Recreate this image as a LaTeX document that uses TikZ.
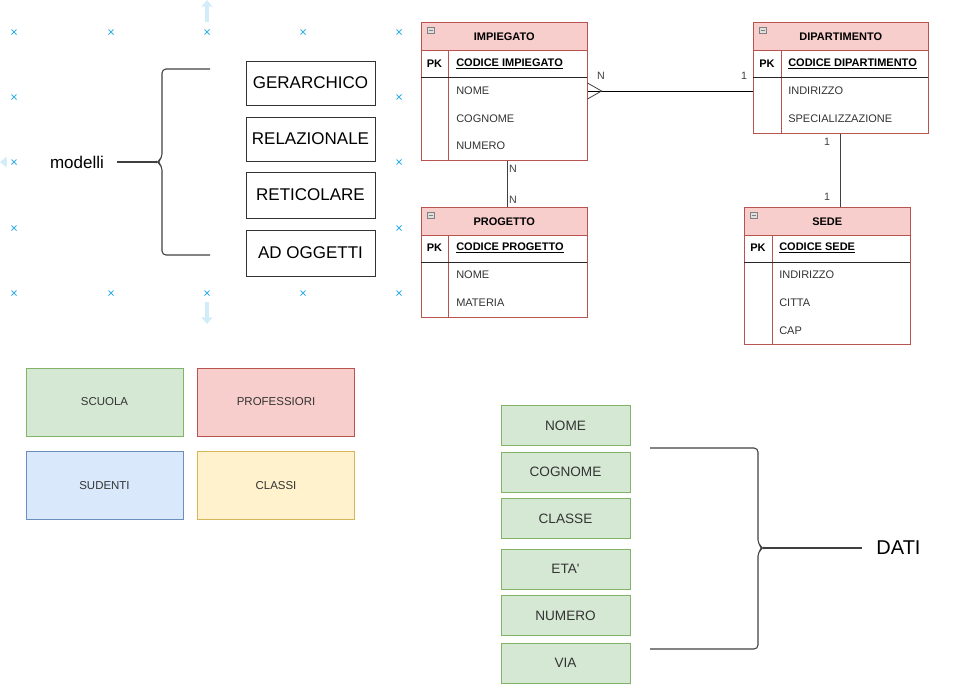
\documentclass[tikz,border=0pt]{standalone}
\usepackage{fontspec}
\setmainfont{Liberation Sans}
\usetikzlibrary{arrows.meta, positioning}
\definecolor{erfill}{HTML}{F8CECC}
\definecolor{erdraw}{HTML}{B85450}
\definecolor{gfill}{HTML}{D5E8D4}
\definecolor{gdraw}{HTML}{82B366}
\definecolor{bfill}{HTML}{DAE8FC}
\definecolor{bdraw}{HTML}{6C8EBF}
\definecolor{yfill}{HTML}{FFF2CC}
\definecolor{ydraw}{HTML}{D6B656}
\definecolor{selblue}{HTML}{3AAEE6}
\definecolor{ghost}{HTML}{D2ECF8}

\begin{document}
\begin{tikzpicture}[x=0.75pt, y=-0.75pt,
      mbox/.style={draw=black!80, minimum width=96.75pt, minimum height=33pt,
                   inner sep=0pt, font=\fontsize{12.75}{15}\selectfont},
      cbox/.style={minimum width=117.75pt, minimum height=51pt, inner sep=0pt,
                   text=black!80, font=\fontsize{8.6}{10}\selectfont},
      dbox/.style={draw=gdraw, fill=gfill, minimum width=96.75pt, minimum height=30pt,
                   inner sep=0pt, text=black!80, font=\fontsize{10.2}{12}\selectfont},
      tbl/.style={draw=erdraw, anchor=north west, inner sep=0pt},
      tblhead/.style={draw=erdraw, fill=erfill, anchor=north west, minimum height=21pt,
                      inner sep=0pt, font=\bfseries\fontsize{8.25}{10}\selectfont},
      pk/.style={inner sep=0pt, font=\bfseries\fontsize{8.25}{10}\selectfont},
      attr/.style={anchor=west, inner sep=0pt, text=black!80, font=\fontsize{8.25}{10}\selectfont},
      key/.style={attr, text=black, font=\bfseries\fontsize{8.25}{10}\selectfont},
      card/.style={inner sep=0pt, text=black!75, font=\fontsize{8}{10}\selectfont},
      conn/.style={draw=black!75, line width=0.8pt},
      brc/.style={draw=black!75, line width=0.8pt, rounded corners=3pt},
      icon/.style={draw=gray, fill=gray!25, line width=0.4pt},
      ghostarr/.style={ghost, line width=3.5pt, -{Triangle[width=8pt, length=5pt]}}]
    \useasboundingbox (0,0) rectangle (975,700);

    % selection marks
    \foreach \x in {14,111,207,303,399} {
      \draw[selblue, line width=0.6pt] (\x-2.5,29.5) -- (\x+2.5,34.5) (\x-2.5,34.5) -- (\x+2.5,29.5);
      \draw[selblue, line width=0.6pt] (\x-2.5,290.5) -- (\x+2.5,295.5) (\x-2.5,295.5) -- (\x+2.5,290.5);
    }
    \foreach \x in {14,399} \foreach \y in {97,162,228}
      \draw[selblue, line width=0.6pt] (\x-2.5,\y-2.5) -- (\x+2.5,\y+2.5) (\x-2.5,\y+2.5) -- (\x+2.5,\y-2.5);
    \draw[ghostarr] (207,22) -- (207,0);
    \draw[ghostarr] (207,302) -- (207,324);
    \draw[ghostarr] (7,162) -- (0,162);

    % modelli
    \node[inner sep=0pt, inner xsep=9.75pt, font=\fontsize{12.75}{15}\selectfont] (modelli) at (77,162) {modelli};
    \coordinate (cusp) at (157,162);
    \draw[brc] (210,69) -- (162,69) -- (162,158) -- (157,162) -- (162,166) -- (162,255) -- (210,255);
    \draw[conn] (modelli) -- (cusp);
    \node[mbox] (ger) at (310.5,83) {GERARCHICO};
    \node[mbox] (rel) at (310.5,139) {RELAZIONALE};
    \node[mbox, minimum height=34.5pt] (ret) at (310.5,195) {RETICOLARE};
    \node[mbox, minimum height=34.5pt] (ogg) at (310.5,253) {AD OGGETTI};

    % IMPIEGATO
    \node[tbl, minimum width=124.5pt, minimum height=103.5pt] (imp) at (421,22) {};
    \node[tblhead, minimum width=124.5pt] (imp-h) at (imp.north west) {IMPIEGATO};
    \draw[icon] (427,27) rectangle (434,33) (428.5,30) -- (432.5,30);
    \draw[erdraw] (448,50) -- (448,160);
    \draw[black!85] (421,77) -- (587,77);
    \node[pk] (imp-pk) at (434.5,64) {PK};
    \node[key] (imp-key) at (456,64) {\underline{CODICE IMPIEGATO}};
    \node[attr] (imp-a1) at (456,91) {NOME};
    \node[attr] (imp-a2) at (456,119) {COGNOME};
    \node[attr] (imp-a3) at (456,146) {NUMERO};

    % PROGETTO
    \node[tbl, minimum width=124.5pt, minimum height=82.5pt] (prog) at (421,207) {};
    \node[tblhead, minimum width=124.5pt] (prog-h) at (prog.north west) {PROGETTO};
    \draw[icon] (427,212) rectangle (434,218) (428.5,215) -- (432.5,215);
    \draw[erdraw] (448,235) -- (448,317);
    \draw[black!85] (421,262) -- (587,262);
    \node[pk] (prog-pk) at (434.5,248) {PK};
    \node[key] (prog-key) at (456,248) {\underline{CODICE PROGETTO}};
    \node[attr] (prog-a1) at (456,275) {NOME};
    \node[attr] (prog-a2) at (456,303) {MATERIA};

    % DIPARTIMENTO
    \node[tbl, minimum width=131.25pt, minimum height=83.25pt] (dip) at (753,22) {};
    \node[tblhead, minimum width=131.25pt] (dip-h) at (dip.north west) {DIPARTIMENTO};
    \draw[icon] (759,27) rectangle (766,33) (760.5,30) -- (764.5,30);
    \draw[erdraw] (781,50) -- (781,133);
    \draw[black!85] (753,77) -- (928,77);
    \node[pk] (dip-pk) at (767,64) {PK};
    \node[key] (dip-key) at (788,64) {\underline{CODICE DIPARTIMENTO}};
    \node[attr] (dip-a1) at (788,91) {INDIRIZZO};
    \node[attr] (dip-a2) at (788,119) {SPECIALIZZAZIONE};

    % SEDE
    \node[tbl, minimum width=124.5pt, minimum height=102.75pt] (sede) at (744,207) {};
    \node[tblhead, minimum width=124.5pt] (sede-h) at (sede.north west) {SEDE};
    \draw[icon] (750,212) rectangle (757,218) (751.5,215) -- (755.5,215);
    \draw[erdraw] (772,235) -- (772,344);
    \draw[black!85] (744,262) -- (910,262);
    \node[pk] (sede-pk) at (758,248) {PK};
    \node[key] (sede-key) at (779,248) {\underline{CODICE SEDE}};
    \node[attr] (sede-a1) at (779,275) {INDIRIZZO};
    \node[attr] (sede-a2) at (779,303) {CITTA};
    \node[attr] (sede-a3) at (779,331) {CAP};

    % relations
    \coordinate (crow) at (imp.east |- imp-a1);
    \draw[conn, line width=0.6pt, black] (crow) -- (dip.west |- dip-a1);
    \draw[conn, line width=0.6pt] (crow) ++(0,8) -- ++(14,-8) -- ++(-14,-8);
    \draw[conn] ([xshift=2.25pt]imp.south) -- ([xshift=2.25pt]prog.north);
    \draw[conn] (dip.south) -- (dip.south |- sede.north);
    \node[card] (c1) at (601,76) {N};
    \node[card] (c2) at (744,76) {1};
    \node[card] (c3) at (513,169) {N};
    \node[card] (c4) at (513,200) {N};
    \node[card] (c5) at (827,142) {1};
    \node[card] (c6) at (827,197) {1};

    % colori
    \node[cbox, draw=gdraw, fill=gfill] (scuola) at (104.5,402) {SCUOLA};
    \node[cbox, draw=erdraw, fill=erfill, right=10.5pt of scuola] (prof) {PROFESSIORI};
    \node[cbox, draw=bdraw, fill=bfill, below=11.25pt of scuola] (stud) {SUDENTI};
    \node[cbox, draw=ydraw, fill=yfill, below=11.25pt of prof] (classi) {CLASSI};

    % dati
    \node[dbox] (nome) at (565.5,425.5) {NOME};
    \node[dbox, below=4.5pt of nome] (cogn) {COGNOME};
    \node[dbox, below=4.5pt of cogn] (classe) {CLASSE};
    \node[dbox, below=7.5pt of classe] (eta) {ETA\textquotesingle};
    \node[dbox, below=4.5pt of eta] (num) {NUMERO};
    \node[dbox, below=5.25pt of num] (via) {VIA};
    \coordinate (cusp2) at (763,548);
    \draw[brc] (650,448) -- (758,448) -- (758,544) -- (763,548) -- (758,552) -- (758,649) -- (650,649);
    \node[inner sep=0pt, inner xsep=10.5pt, font=\fontsize{15}{18}\selectfont] (dati) at (898.5,548) {DATI};
    \draw[conn] (cusp2) -- (dati);
\end{tikzpicture}
\end{document}
